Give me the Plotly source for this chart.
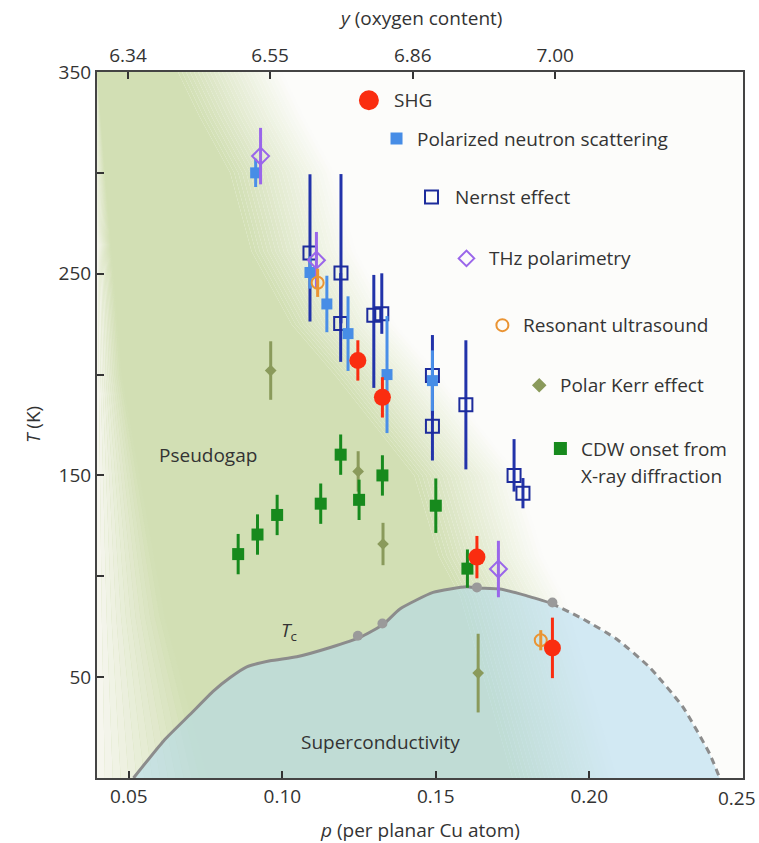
import plotly.graph_objects as go

# ---------------- data ----------------
# SHG
shg_p = [0.1246, 0.1326, 0.1634, 0.1880]
shg_T = [207.0, 188.7, 109.5, 64.5]
shg_err = [10, 10, 10.5, 15]

# Polarized neutron scattering
pns_p = [0.0913, 0.1090, 0.1145, 0.1214, 0.1341, 0.1489]
pns_T = [300.0, 250.6, 235.0, 220.3, 200.0, 197.0]
pns_err = [7, 8, 14, 18.5, 29, 15]

# Nernst effect
ner_p = [0.1090, 0.1191, 0.1190, 0.1298, 0.1324, 0.1489, 0.1489, 0.1598, 0.1755, 0.1784]
ner_T = [260.3, 250.4, 225.3, 229.4, 230.2, 199.6, 174.4, 185.0, 150.0, 141.2]
ner_err_plus = [39, 49, 25, 20, 20, 20, 20, 32, 18, 7.5]
ner_err_minus = [34, 25, 19, 36, 10, 20, 17, 32, 8, 7.5]

# THz polarimetry
thz_p = [0.0929, 0.1111, 0.1704]
thz_T = [308.3, 256.7, 103.6]
thz_err = [14, 14, 14]

# Resonant ultrasound
rus_p = [0.1115, 0.1842]
rus_T = [245.5, 68.3]
rus_err = [7, 5]

# Polar Kerr effect
pk_p = [0.0962, 0.1247, 0.1328, 0.1638]
pk_T = [202.0, 152.0, 116.0, 52.0]
pk_err = [14.5, 10, 10.5, 19.5]

# CDW onset from X-ray diffraction
cdw_p = [0.0856, 0.0919, 0.0983, 0.1125, 0.1190, 0.1250, 0.1326, 0.1500, 0.1603]
cdw_T = [111.0, 120.7, 130.4, 136.0, 160.3, 137.9, 150.0, 135.0, 103.8]
cdw_err = [10, 10, 10, 10, 10, 10, 10, 13.5, 9.5]

# Tc dome
tc_solid_p = [0.0515, 0.0613, 0.0700, 0.0776, 0.0830, 0.0884, 0.0960, 0.1047, 0.1156,
              0.1253, 0.1330, 0.1383, 0.1491, 0.1600, 0.1635, 0.1709, 0.1795, 0.1877]
tc_solid_T = [0, 18.4, 31.6, 43.2, 49.8, 55.1, 58.1, 60.1, 64.7,
              69.7, 76.3, 83.8, 92.0, 94.8, 94.2, 93.7, 90.4, 86.6]
tc_dash_p = [0.1877, 0.1980, 0.2089, 0.2197, 0.2306, 0.2393, 0.2425]
tc_dash_T = [86.6, 78.8, 68.9, 54.8, 35.0, 11.8, 0]
tc_pts_p = [0.1246, 0.1326, 0.1634, 0.1880]
tc_pts_T = [70.5, 76.6, 94.5, 87.0]

# axes ticks
x_ticks = [0.05, 0.10, 0.15, 0.20]
x_ticktext = ["0.05", "0.10", "0.15", "0.20"]
x_last_tick = 0.25
x_last_text = "0.25"
oxy_pos = [0.0497, 0.0960, 0.1425, 0.1889]
oxy_text = ["6.34", "6.55", "6.86", "7.00"]
y_ticks = [50, 150, 250, 350]
y_ticktext = ["50", "150", "250", "350"]
y_minor_ticks = [100, 200, 300]

# ---------------- styling geometry ----------------
P_MIN, P_MAX = 0.0396, 0.2501
T_MIN, T_MAX = 0, 350
pg_edge_T = [350, 328, 300, 261, 225, 200, 150, 110, 90, 0]
pg_edge_p = [0.083, 0.090, 0.100, 0.107, 0.120, 0.134, 0.160, 0.168, 0.175, 0.192]
pg_left_T = [0, 80, 200, 350]
pg_left_dp = [0.036, 0.022, 0.008, 0.0]

BG = (252, 252, 250)
GREEN = (210, 223, 180)
PALE = (247, 247, 240)
FONT = "Open Sans"
TXT = "#333333"


def mix(a, b, f):
    return "rgb(%d,%d,%d)" % tuple(round(a[i] + (b[i] - a[i]) * f) for i in range(3))


fig = go.Figure()

# pseudogap green: opaque bands fading towards the right edge
K = 26
W = 0.034
curves = [[min(P_MAX, p + W * (0.5 - j / K)) for p in pg_edge_p] for j in range(K + 1)]
for j in range(K):
    xs = curves[j] + curves[j + 1][::-1] + [curves[j][0]]
    ys = pg_edge_T + pg_edge_T[::-1] + [pg_edge_T[0]]
    fig.add_trace(go.Scatter(x=xs, y=ys, fill="toself", mode="none",
                             fillcolor=mix(BG, GREEN, (j + 0.5) / K),
                             hoverinfo="skip", showlegend=False))
xs = curves[K] + [P_MIN, P_MIN, curves[K][0]]
ys = pg_edge_T + [0, 350, pg_edge_T[0]]
fig.add_trace(go.Scatter(x=xs, y=ys, fill="toself", mode="none", fillcolor=mix(BG, GREEN, 1.0),
                         hoverinfo="skip", showlegend=False))

# pale fade near the lower-left axis (opaque bands)
M = 14
lcurves = [[P_MIN + d * i / M for d in pg_left_dp] for i in range(M + 1)]
for i in range(M):
    xs = lcurves[i] + lcurves[i + 1][::-1] + [lcurves[i][0]]
    ys = pg_left_T + pg_left_T[::-1] + [pg_left_T[0]]
    fig.add_trace(go.Scatter(x=xs, y=ys, fill="toself", mode="none",
                             fillcolor=mix(GREEN, PALE, 1 - (i + 0.5) / M),
                             hoverinfo="skip", showlegend=False))

# superconducting dome
dome_p = tc_solid_p + tc_dash_p[1:] + [tc_solid_p[0]]
dome_T = tc_solid_T + tc_dash_T[1:] + [tc_solid_T[0]]
fig.add_trace(go.Scatter(x=dome_p, y=dome_T, fill="toself", mode="none",
                         fillcolor="rgba(178,218,238,0.57)", hoverinfo="skip", showlegend=False))

# Tc line
fig.add_trace(go.Scatter(x=tc_solid_p, y=tc_solid_T, mode="lines",
                         line=dict(color="#8c8c8c", width=3, shape="spline", smoothing=0.5),
                         showlegend=False))
fig.add_trace(go.Scatter(x=tc_dash_p, y=tc_dash_T, mode="lines",
                         line=dict(color="#8c8c8c", width=3, dash="7px,5px", shape="spline", smoothing=0.5),
                         showlegend=False))
fig.add_trace(go.Scatter(x=tc_pts_p, y=tc_pts_T, mode="markers",
                         marker=dict(color="#9a9a9a", size=10), showlegend=False))


def err(arr, color, minus=None):
    d = dict(type="data", array=arr, color=color, thickness=3, width=0, visible=True)
    if minus is not None:
        d["symmetric"] = False
        d["arrayminus"] = minus
    return d


# Polar Kerr
fig.add_trace(go.Scatter(x=pk_p, y=pk_T, mode="markers", name="Polar Kerr effect",
                         marker=dict(symbol="diamond", size=9, color="#8a9a5b"),
                         error_y=err(pk_err, "#8a9a5b")))
# CDW
fig.add_trace(go.Scatter(x=cdw_p, y=cdw_T, mode="markers", name="CDW onset",
                         marker=dict(symbol="square", size=12, color="#178a1d"),
                         error_y=err(cdw_err, "#178a1d")))
# Nernst
fig.add_trace(go.Scatter(x=ner_p, y=ner_T, mode="markers", name="Nernst effect",
                         marker=dict(symbol="square-open", size=13, color="#1d2c9c",
                                     line=dict(width=2, color="#1d2c9c")),
                         error_y=err(ner_err_plus, "#2233aa", ner_err_minus)))
# Polarized neutron
fig.add_trace(go.Scatter(x=pns_p, y=pns_T, mode="markers", name="Polarized neutron scattering",
                         marker=dict(symbol="square", size=11, color="#478de6"),
                         error_y=err(pns_err, "#4a8fe8")))
# THz
fig.add_trace(go.Scatter(x=thz_p, y=thz_T, mode="markers", name="THz polarimetry",
                         marker=dict(symbol="diamond-open", size=13, color="#9a66ea",
                                     line=dict(width=2, color="#9a66ea")),
                         error_y=err(thz_err, "#9a66ea")))
# Resonant ultrasound
fig.add_trace(go.Scatter(x=rus_p, y=rus_T, mode="markers", name="Resonant ultrasound",
                         marker=dict(symbol="circle-open", size=12, color="#ea9433",
                                     line=dict(width=2, color="#ea9433")),
                         error_y=err(rus_err, "#ea9433")))
# SHG
fig.add_trace(go.Scatter(x=shg_p, y=shg_T, mode="markers", name="SHG",
                         marker=dict(symbol="circle", size=17, color="#fa2d10"),
                         error_y=err(shg_err, "#fa2d10")))

# ---------------- staggered legend ----------------
legend_items = [
    ("SHG", "circle", 18, "#fa2d10", 0.1282, 336.0, 0.1357),
    ("Polarized neutron scattering", "square", 10, "#478de6", 0.1372, 317.0, 0.1432),
    ("Nernst effect", "square-open", 13, "#1d2c9c", 0.1486, 288.0, 0.1556),
    ("THz polarimetry", "diamond-open", 12, "#9a66ea", 0.1600, 257.6, 0.1667),
    ("Resonant ultrasound", "circle-open", 12, "#ea9433", 0.1717, 224.5, 0.1779),
    ("Polar Kerr effect", "diamond", 9, "#8a9a5b", 0.1837, 194.7, 0.1898),
    ("CDW onset from", "square", 11, "#178a1d", 0.1906, 163.3, 0.1967),
]
for label, sym, sz, col, mx, my, tx in legend_items:
    fig.add_trace(go.Scatter(x=[mx], y=[my], mode="markers", showlegend=False,
                             marker=dict(symbol=sym, size=sz, color=col,
                                         line=dict(width=2, color=col))))
    fig.add_annotation(x=tx, y=my, text=label, showarrow=False, xanchor="left",
                       yanchor="middle", font=dict(family=FONT, size=19, color=TXT))
fig.add_annotation(x=0.1967, y=149.6, text="X-ray diffraction", showarrow=False, xanchor="left",
                   yanchor="middle", font=dict(family=FONT, size=19, color=TXT))

# region labels
fig.add_annotation(x=0.0757, y=160, text="Pseudogap", showarrow=False,
                   font=dict(family=FONT, size=19, color=TXT))
fig.add_annotation(x=0.1321, y=18, text="Superconductivity", showarrow=False,
                   font=dict(family=FONT, size=19, color=TXT))
fig.add_annotation(x=0.1020, y=73, text="<i>T</i><sub>c</sub>", showarrow=False,
                   font=dict(family=FONT, size=19, color=TXT))

# last bottom tick label, kept inside the page edge
fig.add_annotation(xref="paper", yref="paper", x=1.0, xshift=15, y=-0.028, text=x_last_text,
                   showarrow=False, xanchor="right", yanchor="middle",
                   font=dict(family=FONT, size=19, color=TXT))

# axis titles
fig.add_annotation(xref="paper", yref="paper", x=0.5, y=-0.074, text="<i>p</i> (per planar Cu atom)",
                   showarrow=False, yanchor="middle", font=dict(family=FONT, size=19, color=TXT))
fig.add_annotation(xref="paper", yref="paper", x=0.5, y=1.0765, text="<i>y</i> (oxygen content)",
                   showarrow=False, yanchor="middle", font=dict(family=FONT, size=19, color=TXT))
fig.add_annotation(xref="paper", yref="paper", x=-0.099, y=0.5, text="<i>T</i> (K)", textangle=-90,
                   showarrow=False, xanchor="center", yanchor="middle",
                   font=dict(family=FONT, size=19, color=TXT))

# top axis anchor trace
fig.add_trace(go.Scatter(x=[None], y=[None], xaxis="x2", showlegend=False, mode="markers"))

axis_common = dict(showgrid=False, zeroline=False, showline=True, linecolor="#444444",
                   linewidth=2, ticks="inside", ticklen=7, tickwidth=1.5, tickcolor="#333333",
                   automargin=False, ticklabeloverflow="allow",
                   tickfont=dict(family=FONT, size=19, color=TXT))
minor_common = dict(ticks="inside", ticklen=7, tickwidth=1.5, tickcolor="#333333", showgrid=False)

fig.update_layout(
    width=759, height=843,
    margin=dict(l=97, r=16, t=72, b=65, autoexpand=False),
    plot_bgcolor="rgb(252,252,250)", paper_bgcolor="white",
    showlegend=False,
    font=dict(family=FONT, size=19, color=TXT),
    xaxis=dict(range=[P_MIN, P_MAX], tickvals=x_ticks, ticktext=x_ticktext,
               minor=dict(tickvals=[x_last_tick], **minor_common), **axis_common),
    xaxis2=dict(range=[P_MIN, P_MAX], overlaying="x", side="top", matches="x",
                tickvals=oxy_pos, ticktext=oxy_text, **axis_common),
    yaxis=dict(range=[T_MIN, T_MAX], tickvals=y_ticks, ticktext=y_ticktext, mirror=True,
               minor=dict(tickvals=y_minor_ticks, **minor_common),
               **axis_common),
)

fig.write_html("out.html", config={"displayModeBar": False},
               post_script="document.body.style.margin='0px';")
